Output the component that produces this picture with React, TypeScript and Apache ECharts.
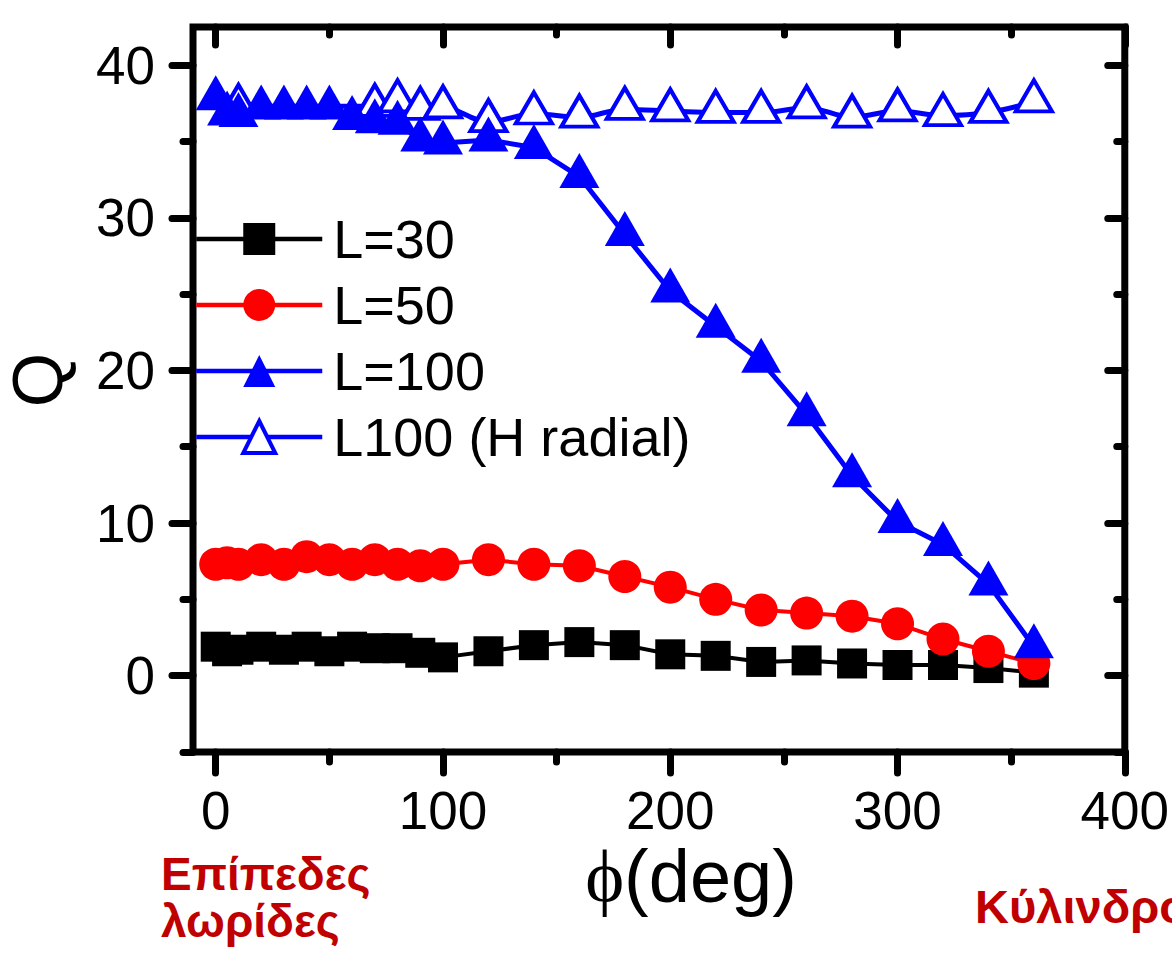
import React, { useEffect, useRef } from 'react';
import * as echarts from 'echarts';

// Rotation angle φ (deg) for the three width series
const phi = [0, 5, 10, 20, 30, 40, 50, 60, 70, 80, 90, 100, 120, 140, 160, 180, 200, 220, 240, 260, 280, 300, 320, 340, 360];
const qL30 = [1.9, 1.6, 1.7, 1.9, 1.7, 1.9, 1.6, 1.9, 1.8, 1.8, 1.5, 1.2, 1.6, 2.0, 2.2, 2.0, 1.4, 1.3, 0.9, 1.0, 0.8, 0.7, 0.7, 0.5, 0.2];
const qL50 = [7.3, 7.4, 7.3, 7.6, 7.3, 7.8, 7.6, 7.3, 7.6, 7.3, 7.2, 7.3, 7.6, 7.3, 7.2, 6.5, 5.8, 5.0, 4.3, 4.1, 3.9, 3.4, 2.4, 1.6, 0.8];
const qL100 = [37.8, 36.8, 36.7, 37.2, 37.2, 37.2, 37.2, 36.5, 36.3, 36.2, 35.1, 34.9, 35.1, 34.6, 32.7, 28.9, 25.2, 22.9, 20.6, 17.1, 13.1, 10.1, 8.6, 6.0, 1.9];

// Radial-field run
const phiRadial = [10, 70, 80, 90, 100, 120, 140, 160, 180, 200, 220, 240, 260, 280, 300, 320, 340, 360];
const qRadial = [37.3, 37.3, 37.6, 37.1, 37.2, 36.3, 36.8, 36.6, 37.1, 37.0, 36.9, 36.9, 37.2, 36.6, 37.0, 36.7, 36.9, 37.6];

const seriesNames = ['L=30', 'L=50', 'L=100', 'L100 (H radial)'];

// Tick positions
const xMajor = [0, 100, 200, 300, 400];
const xMinor = [50, 150, 250, 350];
const yMajor = [0, 10, 20, 30, 40];
const yMinor = [-5, 5, 15, 25, 35];

const X_MIN = -10;
const X_MAX = 400;
const Y_MIN = -5;
const Y_MAX = 42.5;

const FONT = '"Liberation Sans", Arial, Helvetica, sans-serif';
const BLUE = '#0000ff';
const RED = '#ff0000';
const DARK_RED = '#c00000';

const pairs = (xs: number[], ys: number[]) => xs.map((x, i) => [x, ys[i]]);

const tickStyle = { color: '#000', width: 7, cap: 'round' as const };

function makeAxis(
  kind: 'x' | 'y',
  position: string,
  values: number[],
  length: number,
  inside: boolean,
  labelMargin?: number
) {
  return {
    type: 'value',
    position,
    min: kind === 'x' ? X_MIN : Y_MIN,
    max: kind === 'x' ? X_MAX : Y_MAX,
    axisLine: { show: false, onZero: false },
    splitLine: { show: false },
    axisTick: { show: true, inside, length, customValues: values, lineStyle: tickStyle },
    axisLabel:
      labelMargin !== undefined
        ? {
            show: true,
            customValues: values,
            margin: labelMargin,
            fontSize: 53,
            color: '#000',
            fontFamily: FONT,
          }
        : { show: false },
  };
}

export default function App() {
  const ref = useRef<HTMLDivElement>(null);

  useEffect(() => {
    if (!ref.current) return;
    const chart = echarts.init(ref.current, null, { renderer: 'svg' });

    const option = {
      animation: false,
      backgroundColor: '#fff',
      grid: {
        left: 193,
        right: 25,
        top: 27,
        bottom: 213,
        show: true,
        borderColor: '#000',
        borderWidth: 7,
        backgroundColor: 'transparent',
      },
      xAxis: [
        makeAxis('x', 'bottom', xMajor, 21, false, 32),
        makeAxis('x', 'bottom', xMinor, 10, false),
        makeAxis('x', 'top', xMajor, 18, true),
        makeAxis('x', 'top', xMinor, 8, true),
      ],
      yAxis: [
        makeAxis('y', 'left', yMajor, 21, false, 38),
        makeAxis('y', 'left', yMinor, 10, false),
        makeAxis('y', 'right', yMajor, 17, true),
        makeAxis('y', 'right', yMinor, 8, true),
      ],
      legend: {
        orient: 'vertical',
        left: 194,
        top: 212,
        padding: 0,
        itemWidth: 126,
        itemHeight: 40,
        itemGap: 12,
        selectedMode: false,
        lineStyle: { width: 4.5 },
        data: [
          { name: seriesNames[0] },
          { name: seriesNames[1] },
          { name: seriesNames[2] },
          { name: seriesNames[3], itemStyle: { borderWidth: 4, borderColor: BLUE, color: '#fff' } },
        ],
        textStyle: {
          fontSize: 54,
          fontFamily: FONT,
          color: '#000',
          padding: [0, 0, 0, 6],
        },
      },
      series: [
        {
          name: seriesNames[3],
          type: 'line',
          data: pairs(phiRadial, qRadial),
          smooth: 0.4,
          symbol: 'triangle',
          symbolSize: [36, 31],
          symbolOffset: [0, -6],
          itemStyle: { color: '#fff', borderColor: BLUE, borderWidth: 4 },
          lineStyle: { color: BLUE, width: 5 },
        },
        {
          name: seriesNames[0],
          type: 'line',
          data: pairs(phi, qL30),
          symbol: 'rect',
          symbolSize: 30,
          itemStyle: { color: '#000' },
          lineStyle: { color: '#000', width: 4 },
        },
        {
          name: seriesNames[1],
          type: 'line',
          data: pairs(phi, qL50),
          symbol: 'circle',
          symbolSize: 33,
          itemStyle: { color: RED },
          lineStyle: { color: RED, width: 4 },
        },
        {
          name: seriesNames[2],
          type: 'line',
          data: pairs(phi, qL100),
          symbol: 'triangle',
          symbolSize: [40, 35],
          symbolOffset: [0, -6],
          itemStyle: { color: BLUE },
          lineStyle: { color: BLUE, width: 5 },
        },
      ],
      graphic: [
        {
          type: 'text',
          x: 38,
          y: 380,
          rotation: Math.PI / 2,
          style: {
            text: 'Q',
            fontSize: 70,
            fontFamily: FONT,
            fill: '#000',
            align: 'center',
            verticalAlign: 'middle',
          },
        },
        {
          type: 'text',
          x: 691,
          y: 876,
          style: {
            text: '{p|ϕ}(deg)',
            fontSize: 74,
            fontFamily: FONT,
            fill: '#000',
            align: 'center',
            verticalAlign: 'middle',
            rich: {
              p: { fontSize: 74, fontFamily: '"Liberation Serif", "DejaVu Serif", serif', fill: '#000' },
            },
          },
        },
        {
          type: 'text',
          x: 161,
          y: 874,
          style: {
            text: 'Επίπεδες',
            fontSize: 46,
            fontWeight: 'bold',
            fontFamily: FONT,
            fill: DARK_RED,
            align: 'left',
            verticalAlign: 'middle',
          },
        },
        {
          type: 'text',
          x: 161,
          y: 921,
          style: {
            text: 'λωρίδες',
            fontSize: 46,
            fontWeight: 'bold',
            fontFamily: FONT,
            fill: DARK_RED,
            align: 'left',
            verticalAlign: 'middle',
          },
        },
        {
          type: 'text',
          x: 975,
          y: 906,
          style: {
            text: 'Κύλινδροι',
            fontSize: 47,
            fontWeight: 'bold',
            fontFamily: FONT,
            fill: DARK_RED,
            align: 'left',
            verticalAlign: 'middle',
          },
        },
      ],
    };

    chart.setOption(option as any);
    return () => chart.dispose();
  }, []);

  return (
    <div
      ref={ref}
      style={{ position: 'absolute', left: 0, top: 0, width: 1172, height: 965, background: '#fff' }}
    />
  );
}
